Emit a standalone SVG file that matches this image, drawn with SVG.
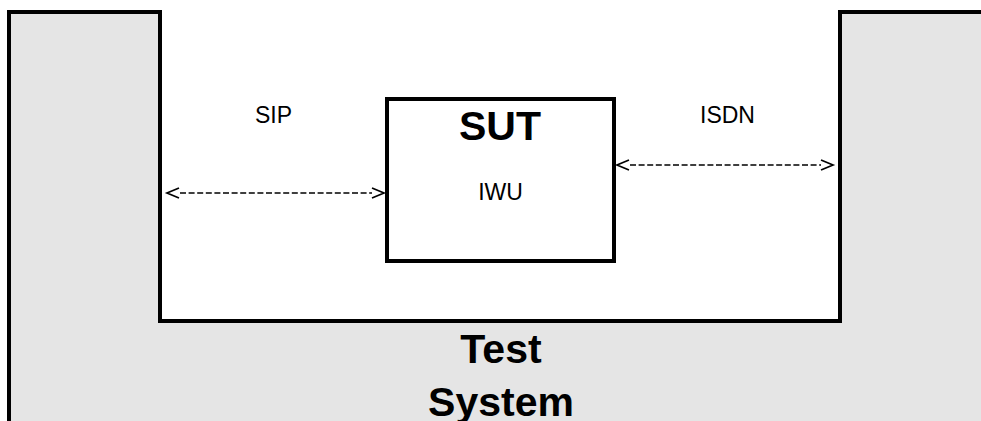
<svg xmlns="http://www.w3.org/2000/svg" width="981" height="421" viewBox="0 0 981 421">
  <style>
    .lbl { font-family: "Liberation Sans", Arial, sans-serif; font-size: 23px; fill: #000; text-anchor: middle; }
    .big { font-family: "Liberation Sans", Arial, sans-serif; font-size: 41px; font-weight: bold; fill: #000; text-anchor: middle; }
    .box { stroke: #000; stroke-width: 4; stroke-linejoin: miter; }
    .dash { stroke: #000; stroke-width: 1.7; stroke-dasharray: 6 2.6; fill: none; }
    .head { stroke: #000; stroke-width: 1.7; fill: none; }
  </style>
  <rect x="0" y="0" width="981" height="421" fill="#fff"/>
  <g id="test-system">
    <path class="box" d="M 9 430 L 9 12 L 160 12 L 160 321 L 840 321 L 840 12 L 990 12 L 990 430 Z" fill="#e5e5e5"/>
    <text class="big" x="501" y="363">Test</text>
    <text class="big" x="501" y="416">System</text>
  </g>
  <g id="sut">
    <rect class="box" x="387" y="99" width="227" height="162" fill="#fff"/>
    <text class="big" x="500" y="140">SUT</text>
    <text class="lbl" x="500.5" y="200">IWU</text>
  </g>
  <g id="connectors">
    <g id="sip-link">
      <line class="dash" x1="180" y1="193" x2="372" y2="193"/>
      <polyline class="head" points="179,188 167,193 179,198"/>
      <polyline class="head" points="372,188 384,193 372,198"/>
    </g>
    <g id="isdn-link">
      <line class="dash" x1="630" y1="165" x2="821" y2="165"/>
      <polyline class="head" points="629,160 617,165 629,170"/>
      <polyline class="head" points="821,160 833,165 821,170"/>
    </g>
  </g>
  <g id="labels">
    <text class="lbl" x="273.5" y="123">SIP</text>
    <text class="lbl" x="727.5" y="123">ISDN</text>
  </g>
</svg>
